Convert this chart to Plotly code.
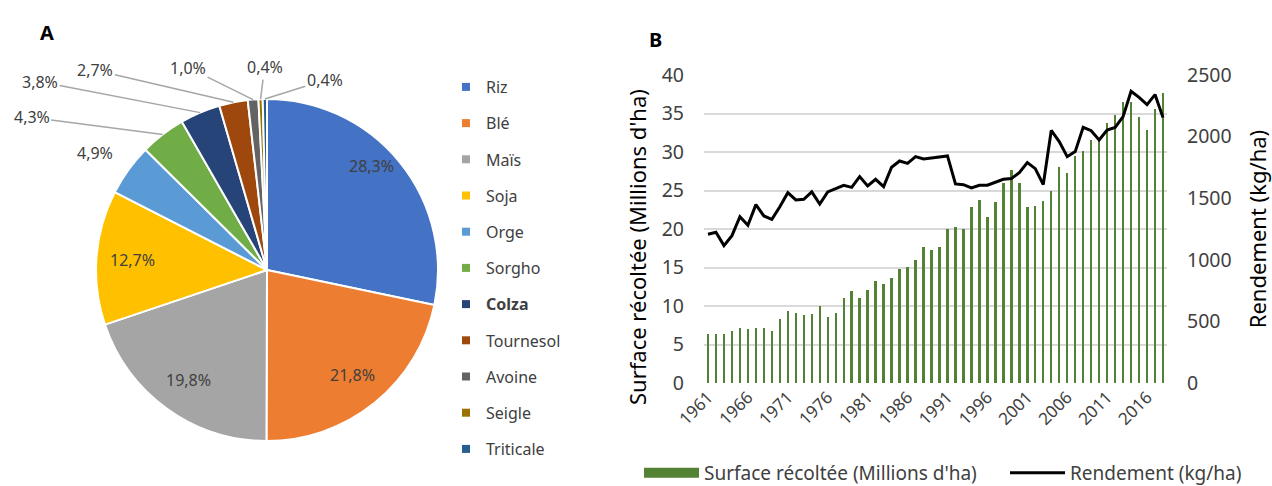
import math
import plotly.graph_objects as go

# ---------------- Data ----------------
crops = ["Riz", "Blé", "Maïs", "Soja", "Orge", "Sorgho", "Colza",
         "Tournesol", "Avoine", "Seigle", "Triticale"]
shares = [28.3, 21.8, 19.8, 12.7, 4.9, 4.3, 3.8, 2.7, 1.0, 0.4, 0.4]
crop_colors = ["#4472C4", "#ED7D31", "#A5A5A5", "#FFC000", "#5B9BD5", "#70AD47",
               "#264478", "#9E480E", "#636363", "#997300", "#255E91"]

years = list(range(1961, 2019))
surface = [6.3, 6.3, 6.3, 6.8, 7.1, 7.0, 7.1, 7.1, 6.8, 8.3,
           9.3, 9.1, 8.8, 9.0, 10.0, 8.6, 9.1, 11.1, 12.0, 11.0,
           12.1, 13.2, 12.8, 13.6, 14.8, 15.1, 16.0, 17.6, 17.3, 17.6,
           20.0, 20.3, 20.0, 22.8, 23.8, 21.6, 23.5, 26.0, 27.7, 26.0,
           22.8, 23.0, 23.6, 25.0, 28.0, 27.3, 29.5, 30.1, 31.6, 31.5,
           33.8, 34.8, 36.5, 36.5, 34.5, 32.8, 35.6, 37.6]
rendement = [1207, 1223, 1115, 1196, 1350, 1280, 1448, 1356, 1329, 1431,
             1545, 1486, 1491, 1551, 1453, 1551, 1578, 1605, 1588, 1675,
             1599, 1653, 1594, 1751, 1802, 1783, 1837, 1818, 1827, 1837,
             1843, 1616, 1610, 1583, 1605, 1605, 1632, 1653, 1659, 1707,
             1789, 1740, 1610, 2050, 1959, 1837, 1878, 2075, 2048, 1973,
             2054, 2075, 2162, 2368, 2319, 2260, 2341, 2154]
year_ticks = years[::5]

# ---------------- Layout constants ----------------
W, H = 1272, 486
FONT = "Noto Sans"
TXT = "#404040"
BAR_GREEN = "#548235"
PIE_CX, PIE_CY, PIE_R = 267, 270, 171  # px
inside_n = 4          # first four slices labelled inside the pie
INSIDE_RF = 0.79      # radial position of inside labels (fraction of radius)
inside_nudge = {0: (0, -19)}  # px nudges for inside labels (best-fit look)

def fmt(v):
    return f"{v:.1f}%".replace(".", ",")

fig = go.Figure()

fig.add_trace(go.Pie(
    labels=crops, values=shares, textinfo="none",
    sort=False, direction="clockwise", rotation=0,
    marker=dict(colors=crop_colors, line=dict(color="white", width=2)),
    domain=dict(x=[(PIE_CX - PIE_R) / W, (PIE_CX + PIE_R) / W],
                y=[1 - (PIE_CY + PIE_R) / H, 1 - (PIE_CY - PIE_R) / H]),
    showlegend=False, hoverinfo="label+value",
))

# legend entries for the pie (one per crop)
for name, col in zip(crops, crop_colors):
    label = f"<b>{name}</b>" if name == "Colza" else name
    fig.add_trace(go.Scatter(
        x=[None], y=[None], mode="markers", name=label,
        marker=dict(symbol="square", size=8, color=col),
        legend="legend", legendgroup=name, showlegend=True, hoverinfo="skip"))

# Chart B
fig.add_trace(go.Bar(
    x=years, y=surface, name="Surface récoltée (Millions d'ha)",
    marker=dict(color=BAR_GREEN, line=dict(width=0)), width=0.3,
    showlegend=False, xaxis="x", yaxis="y"))
# legend key for the bars (wide green block, as in the original)
fig.add_trace(go.Scatter(
    x=[None], y=[None], mode="lines", name="Surface récoltée (Millions d'ha)",
    line=dict(color=BAR_GREEN, width=12), legend="legend2",
    hoverinfo="skip", xaxis="x", yaxis="y"))
fig.add_trace(go.Scatter(
    x=years, y=rendement, name="Rendement (kg/ha)", mode="lines",
    line=dict(color="black", width=3), legend="legend2",
    xaxis="x", yaxis="y2"))

# pie labels: inside ones at mid-angle, outside ones with leader lines
offsets = {4: (-33, -17, False), 5: (-131, -17, True), 6: (-160, -31, True),
           7: (-138, -32, True), 8: (-65, -32, True), 9: (4, -32, True),
           10: (60, -19, True)}
total = sum(shares)
cum = 0.0
for i, v in enumerate(shares):
    mid = (cum + v / 2) / total
    cum += v
    ang = 2 * math.pi * mid
    if i < inside_n:
        r = PIE_R * INSIDE_RF
        dx, dy = inside_nudge.get(i, (0, 0))
        px = PIE_CX + r * math.sin(ang) + dx
        py = PIE_CY - r * math.cos(ang) + dy
        fig.add_annotation(
            x=px / W, y=1 - py / H, xref="paper", yref="paper",
            text=fmt(v), showarrow=False, xanchor="center", yanchor="middle",
            font=dict(family=FONT, size=16, color=TXT))
    else:
        px = PIE_CX + PIE_R * math.sin(ang)
        py = PIE_CY - PIE_R * math.cos(ang)
        ax, ay, line = offsets[i]
        fig.add_annotation(
            x=px / W, y=1 - py / H, xref="paper", yref="paper",
            text=fmt(v), showarrow=True, ax=ax, ay=ay,
            arrowhead=0, arrowwidth=1.5,
            arrowcolor="#A6A6A6" if line else "rgba(0,0,0,0)",
            font=dict(family=FONT, size=16, color=TXT))

# panel letters
fig.add_annotation(x=47 / W, y=1 - 32 / H, xref="paper", yref="paper",
                   text="<b>A</b>", showarrow=False,
                   xanchor="center", yanchor="middle",
                   font=dict(family=FONT, size=20, color="black"))
fig.add_annotation(x=655 / W, y=1 - 40 / H, xref="paper", yref="paper",
                   text="<b>B</b>", showarrow=False,
                   xanchor="center", yanchor="middle",
                   font=dict(family=FONT, size=20, color="black"))
# left axis title (placed like the original, slightly below axis centre)
fig.add_annotation(x=637 / W, y=1 - 247 / H, xref="paper", yref="paper",
                   text="Surface récoltée (Millions d'ha)", textangle=-90,
                   showarrow=False, xanchor="center", yanchor="middle",
                   font=dict(family=FONT, size=22, color="black"))

fig.update_layout(
    template="none",
    width=W, height=H, margin=dict(l=0, r=0, t=0, b=0, autoexpand=False),
    paper_bgcolor="white", plot_bgcolor="white",
    font=dict(family=FONT, color=TXT, size=16),
    bargap=0, hovermode="closest",
    xaxis=dict(domain=[704 / W, 1167 / W], range=[1960.5, 2018.5],
               tickvals=year_ticks, ticktext=[str(y) for y in year_ticks],
               tickangle=-45, tickfont=dict(size=17, color=TXT),
               showgrid=False, zeroline=False, showline=False, ticks="",
               automargin=False),
    yaxis=dict(domain=[1 - 383 / H, 1 - 75 / H], range=[0, 40], dtick=5,
               gridcolor="#D9D9D9", gridwidth=1.5, zeroline=False,
               showline=False, ticks="", automargin=False,
               ticklabelstandoff=19,
               tickfont=dict(size=19.5, color=TXT)),
    yaxis2=dict(overlaying="y", side="right", anchor="x", range=[0, 2500], dtick=500,
                showgrid=False, zeroline=False, showline=False, ticks="",
                automargin=False, ticklabelstandoff=19,
                tickfont=dict(size=19.5, color=TXT),
                title=dict(text="Rendement (kg/ha)",
                           font=dict(size=22, color="black"), standoff=21)),
    legend=dict(x=446 / W, y=1 - 70 / H, xanchor="left", yanchor="top",
                tracegroupgap=12.4, font=dict(size=16, color=TXT),
                bgcolor="rgba(0,0,0,0)"),
    legend2=dict(orientation="h", x=639 / W, y=1 - 473 / H,
                 xanchor="left", yanchor="middle", itemwidth=55,
                 entrywidth=296, entrywidthmode="pixels",
                 font=dict(size=19, color=TXT), bgcolor="rgba(0,0,0,0)"),
)

fig.write_html("out.html", config={"displayModeBar": False},
               post_script="document.body.style.margin='0';")
